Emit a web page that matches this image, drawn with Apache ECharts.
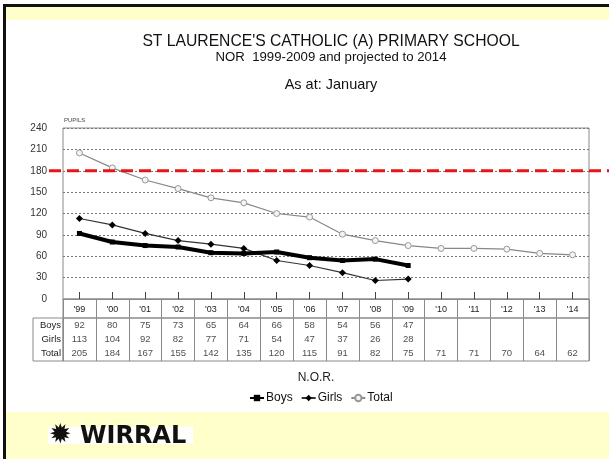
<!DOCTYPE html>
<html>
<head>
<meta charset="utf-8">
<script src="https://cdn.jsdelivr.net/npm/echarts@6/dist/echarts.min.js"></script>
<style>
  html, body { margin: 0; padding: 0; background: #fff; }
  #chart { width: 609px; height: 459px; }
</style>
</head>
<body>
<div id="chart"></div>
<script>
// school years (January counts), actual to '09 then projected
const years = ["'99", "'00", "'01", "'02", "'03", "'04", "'05", "'06", "'07", "'08", "'09", "'10", "'11", "'12", "'13", "'14"]
const boys = [92, 80, 75, 73, 65, 64, 66, 58, 54, 56, 47, null, null, null, null, null]
const girls = [113, 104, 92, 82, 77, 71, 54, 47, 37, 26, 28, null, null, null, null, null]
const total = [205, 184, 167, 155, 142, 135, 120, 115, 91, 82, 75, 71, 71, 70, 64, 62]
const rowNames = ['Boys', 'Girls', 'Total']
const capacity = 180
const yMin = 0
const yMax = 240
const yStep = 30

const FONT = 'Liberation Sans, Arial, sans-serif'
const GRID_LINE = '#8a8a8a'

// cells of the data table under the plot
function tableCells () {
  const cells = []
  const rows = [boys, girls, total]
  rows.forEach((vals, r) => {
    vals.forEach((v, i) => {
      if (v !== null) cells.push([i, r, v])
    })
  })
  return cells
}

const chart = echarts.init(document.getElementById('chart'))

const option = {
  animation: false,
  backgroundColor: '#fff',
  textStyle: { fontFamily: FONT },
  grid: [
    { left: 63, right: 20, top: 128, height: 171, show: true, borderColor: GRID_LINE, borderWidth: 1 },
    { left: 63, right: 20, top: 299, height: 19, show: true, borderColor: GRID_LINE, borderWidth: 1 },
    { left: 63, right: 20, top: 318, height: 43, show: true, borderColor: GRID_LINE, borderWidth: 1 },
    { left: 33, width: 30, top: 318, height: 43, show: true, borderColor: GRID_LINE, borderWidth: 1 }
  ],
  xAxis: [
    {
      gridIndex: 0,
      type: 'category',
      data: years,
      axisLine: { show: true, lineStyle: { color: GRID_LINE } },
      axisTick: { show: true, inside: true, length: 7, alignWithLabel: true, lineStyle: { color: '#444' } },
      axisLabel: { show: false },
      name: 'N.O.R.',
      nameLocation: 'middle',
      nameGap: 73,
      nameTextStyle: { fontSize: 12, color: '#222', fontFamily: FONT, padding: [0, 20, 0, 0] }
    },
    {
      gridIndex: 1,
      type: 'category',
      data: years,
      position: 'top',
      axisLine: { show: false },
      axisTick: { show: false },
      splitLine: { show: true, lineStyle: { color: GRID_LINE, width: 1 } },
      axisLabel: { inside: true, margin: 6, fontSize: 9, color: '#222', fontFamily: FONT }
    },
    {
      gridIndex: 2,
      type: 'category',
      data: years,
      axisLine: { show: false },
      axisTick: { show: false },
      axisLabel: { show: false },
      splitLine: { show: true, lineStyle: { color: GRID_LINE, width: 1 } }
    },
    { gridIndex: 3, type: 'value', show: false }
  ],
  yAxis: [
    {
      gridIndex: 0,
      type: 'value',
      min: yMin,
      max: yMax,
      interval: yStep,
      name: 'PUPILS',
      nameLocation: 'end',
      nameGap: 5,
      nameTextStyle: { fontSize: 6, color: '#444', align: 'left', padding: [0, 0, 0, 1] },
      axisLine: { show: false },
      axisTick: { show: false },
      axisLabel: { margin: 16, fontSize: 10, color: '#333', fontFamily: FONT },
      splitLine: { show: true, lineStyle: { color: '#777', type: [2, 2], width: 1 } }
    },
    { gridIndex: 1, type: 'value', min: 0, max: 1, show: false },
    {
      gridIndex: 2,
      type: 'category',
      data: rowNames,
      inverse: true,
      show: false
    },
    {
      gridIndex: 3,
      type: 'category',
      data: rowNames,
      inverse: true,
      position: 'right',
      axisLine: { show: false },
      axisTick: { show: false },
      axisLabel: { inside: true, margin: 2, fontSize: 9.5, color: '#222', fontFamily: FONT }
    }
  ],
  legend: {
    data: ['Boys', 'Girls', 'Total'],
    top: 387,
    left: 244,
    itemGap: 8,
    itemWidth: 14,
    itemHeight: 8,
    textStyle: { fontSize: 12, color: '#111', fontFamily: FONT, padding: [0, 0, 0, -3] }
  },
  series: [
    {
      name: 'Total',
      type: 'line',
      data: total,
      symbol: 'circle',
      symbolSize: 6,
      showSymbol: true,
      lineStyle: { color: '#888', width: 1.2 },
      itemStyle: { color: '#f4f4f4', borderColor: '#999', borderWidth: 1 },
      z: 3
    },
    {
      name: 'Girls',
      type: 'line',
      data: girls,
      symbol: 'diamond',
      symbolSize: 7,
      lineStyle: { color: '#333', width: 1.2 },
      itemStyle: { color: '#000' },
      z: 4
    },
    {
      name: 'Boys',
      type: 'line',
      data: boys,
      symbol: 'rect',
      symbolSize: 5,
      lineStyle: { color: '#000', width: 4 },
      itemStyle: { color: '#000' },
      z: 5
    },
    {
      name: 'table',
      type: 'scatter',
      xAxisIndex: 2,
      yAxisIndex: 2,
      data: tableCells(),
      symbolSize: 1,
      itemStyle: { color: 'rgba(0,0,0,0)' },
      label: {
        show: true,
        position: 'inside',
        fontSize: 9.5,
        color: '#222',
        fontFamily: FONT,
        formatter: p => String(p.value[2])
      },
      silent: true
    }
  ]
}

chart.setOption(option)

// capacity line: y from the axis scale, drawn past the plot on both sides
const capY = chart.convertToPixel({ yAxisIndex: 0 }, capacity)

chart.setOption({
  graphic: [
    // frame and yellow bands
    { type: 'rect', shape: { x: 6, y: 7, width: 603, height: 13 }, style: { fill: '#ffffcc' }, z: 0 },
    { type: 'rect', shape: { x: 6, y: 412, width: 603, height: 47 }, style: { fill: '#ffffcc' }, z: 0 },
    { type: 'rect', shape: { x: 3, y: 4, width: 606, height: 3 }, style: { fill: '#111' }, z: 1 },
    { type: 'rect', shape: { x: 3, y: 4, width: 3, height: 455 }, style: { fill: '#111' }, z: 1 },
    // titles
    { type: 'text', x: 331, y: 42, style: { text: "ST LAURENCE'S CATHOLIC (A) PRIMARY SCHOOL", font: '15.7px ' + FONT, fill: '#111', align: 'center', verticalAlign: 'middle' } },
    { type: 'text', x: 331, y: 57, style: { text: 'NOR  1999-2009 and projected to 2014', font: '13.2px ' + FONT, fill: '#111', align: 'center', verticalAlign: 'middle' } },
    { type: 'text', x: 331, y: 85, style: { text: 'As at: January', font: '14.5px ' + FONT, fill: '#111', align: 'center', verticalAlign: 'middle' } },
    // capacity line
    {
      type: 'line',
      shape: { x1: 49, y1: capY, x2: 609, y2: capY },
      style: { stroke: '#e8141a', lineWidth: 3, lineDash: [12, 6] },
      z: 10
    },
    // logo
    { type: 'rect', shape: { x: 48, y: 427, width: 145, height: 17 }, style: { fill: '#fff' }, z: 1 },
    { type: 'text', x: 49, y: 436, style: { text: '\u2739', font: 'bold 27px DejaVu Sans', fill: '#111', verticalAlign: 'middle' }, z: 2 },
    { type: 'text', x: 80, y: 437, style: { text: 'WIRRAL', font: 'bold 24px DejaVu Sans', fill: '#111', verticalAlign: 'middle' }, z: 2 }
  ]
})
</script>
</body>
</html>
